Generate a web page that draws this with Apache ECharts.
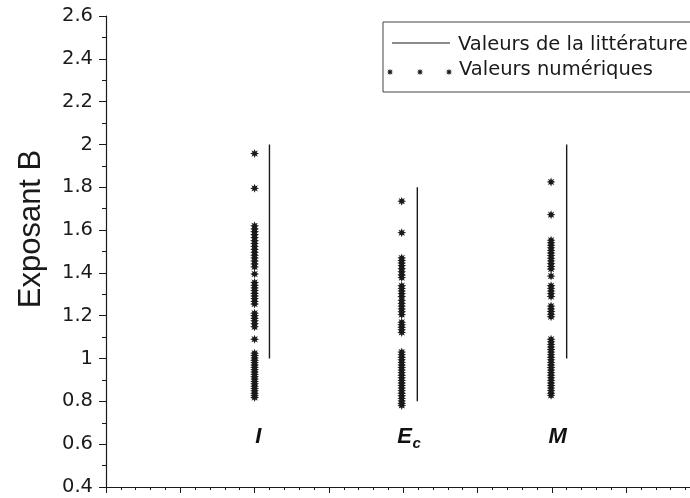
<!DOCTYPE html>
<html><head><meta charset="utf-8">
<script src="https://cdn.jsdelivr.net/npm/echarts@6/dist/echarts.min.js"></script>
<style>html,body{margin:0;padding:0;background:#fff}#c{width:690px;height:498px}</style>
</head><body><div id="c"></div>
<script>
var yTicks = [0.4,0.6,0.8,1,1.2,1.4,1.6,1.8,2,2.2,2.4,2.6];
var groupX = {I: 2.0, Ec: 3.98, M: 5.99};
var litX = {I: 2.2, Ec: 4.19, M: 6.2};
var litRange = {I: [1.0, 2.0], Ec: [0.8, 1.8], M: [1.0, 2.0]};
var valsI = [1.958,1.795,1.620,1.605,1.592,1.578,1.565,1.550,1.538,1.524,1.510,1.497,1.483,1.470,1.456,1.442,1.428,1.395,1.355,1.342,1.330,1.318,1.305,1.292,1.280,1.267,1.255,1.212,1.200,1.188,1.176,1.163,1.148,1.090,1.025,1.014,1.003,0.992,0.981,0.970,0.959,0.948,0.937,0.926,0.915,0.904,0.893,0.882,0.871,0.860,0.849,0.838,0.827,0.818];
var valsEc = [1.735,1.588,1.470,1.458,1.446,1.434,1.420,1.405,1.390,1.378,1.340,1.328,1.316,1.303,1.290,1.272,1.258,1.245,1.232,1.218,1.205,1.170,1.158,1.146,1.134,1.122,1.030,1.018,1.006,0.994,0.982,0.970,0.958,0.946,0.934,0.922,0.910,0.898,0.886,0.874,0.862,0.850,0.838,0.826,0.814,0.802,0.790,0.781];
var valsM = [1.825,1.672,1.553,1.541,1.529,1.517,1.505,1.493,1.481,1.469,1.456,1.443,1.430,1.418,1.385,1.340,1.328,1.316,1.303,1.290,1.245,1.232,1.220,1.207,1.195,1.090,1.078,1.066,1.054,1.042,1.030,1.018,1.006,0.994,0.982,0.970,0.958,0.946,0.934,0.922,0.910,0.898,0.886,0.874,0.862,0.850,0.838,0.828];
var groupLabels = [{x: 2.05, y: 0.633, t: 'I', fs: 22}, {x: 4.02, y: 0.633, t: 'E', fs: 22}, {x: 4.18, y: 0.603, t: 'c', fs: 15}, {x: 6.08, y: 0.633, t: 'M', fs: 22}];

var star = 'path://M200,100L145,120.7L170.7,170.7L120.7,145L100,200L79.3,145L29.3,170.7L55,120.7L0,100L55,79.3L29.3,29.3L79.3,55L100,0L120.7,55L170.7,29.3L145,79.3Z';
var ink = '#1a1a1a';
function pts(x, arr){ return arr.map(function(v){return [x, v];}); }
function lit(k){ return [[litX[k], litRange[k][0]], [litX[k], litRange[k][1]]]; }
function starPoly(cx, cy, r){
  var p = [];
  for (var k = 0; k < 16; k++){
    var a = k * Math.PI / 8, rr = (k % 2 === 0) ? r : r * 0.45;
    p.push([cx + rr * Math.cos(a), cy + rr * Math.sin(a)]);
  }
  return {type:'polygon', shape:{points:p}, style:{fill:ink}};
}
var series = [];
['I','Ec','M'].forEach(function(k){
  series.push({type:'line', data: lit(k), symbol:'none', lineStyle:{color:'#1a1a1a', width:1.4}, silent:true, animation:false});
});
[['I',valsI],['Ec',valsEc],['M',valsM]].forEach(function(p){
  series.push({type:'scatter', data: pts(groupX[p[0]], p[1]), symbol: star, symbolSize: 9, itemStyle:{color: ink, opacity:1}, animation:false});
});
series.push({type:'scatter', symbolSize:0, animation:false, silent:true, itemStyle:{opacity:1, color:'#111'},
  data: groupLabels.map(function(g){return {value:[g.x, g.y], name:g.t, label:{fontSize:g.fs}};}),
  label:{show:true, position:'inside', formatter:function(p){return p.name;}, color:'#111',
    fontFamily:'Liberation Sans', fontStyle:'italic', fontWeight:'bold', fontSize: 22}
});

var chart = echarts.init(document.getElementById('c'), null, {renderer:'canvas'});
chart.setOption({
  animation:false,
  grid:{left:106, top:16, right:0, bottom:11, containLabel:false},
  xAxis:{type:'value', min:0, max:7.86, interval:1,
    axisLine:{lineStyle:{color:'#1a1a1a', width:1.2}}, axisLabel:{show:false},
    axisTick:{show:true, inside:false, length:6, lineStyle:{color:'#1a1a1a'}},
    minorTick:{show:true, splitNumber:5, length:3, lineStyle:{color:'#1a1a1a'}},
    splitLine:{show:false}},
  yAxis:{type:'value', min:0.4, max:2.6, interval:0.2,
    axisLine:{show:true, lineStyle:{color:'#1a1a1a', width:1.2}},
    axisTick:{show:true, length:7, lineStyle:{color:'#1a1a1a'}},
    minorTick:{show:true, splitNumber:2, length:4, lineStyle:{color:'#1a1a1a'}},
    axisLabel:{margin:13, fontFamily:'DejaVu Sans', fontSize:19.5, color:'#1a1a1a',
      formatter:function(v){ var r = Math.round(v*10)/10; return yTicks.indexOf(r) >= 0 ? String(r) : ''; }},
    splitLine:{show:false}},
  series: series,
  graphic:[
    {type:'text', x:31, y:229, rotation:Math.PI/2, style:{text:'Exposant B', fontFamily:'Liberation Sans', fontSize:31, fill:'#1a1a1a', align:'center', verticalAlign:'middle'}},
    {type:'rect', shape:{x:383, y:22, width:320, height:70}, style:{fill:'#fff', stroke:'#444', lineWidth:1}},
    {type:'line', shape:{x1:392, y1:43, x2:450, y2:43}, style:{stroke:'#1a1a1a', lineWidth:1.2}},
    {type:'text', x:458, y:45, style:{text:'Valeurs de la littérature', fontFamily:'DejaVu Sans', fontSize:19.5, fill:'#1a1a1a', verticalAlign:'middle'}},
    starPoly(390, 72, 3.5),
    starPoly(420, 72, 3.5),
    starPoly(449, 72, 3.5),
    {type:'text', x:459, y:70, style:{text:'Valeurs numériques', fontFamily:'DejaVu Sans', fontSize:19.5, fill:'#1a1a1a', verticalAlign:'middle'}}
  ]
});
</script></body></html>
